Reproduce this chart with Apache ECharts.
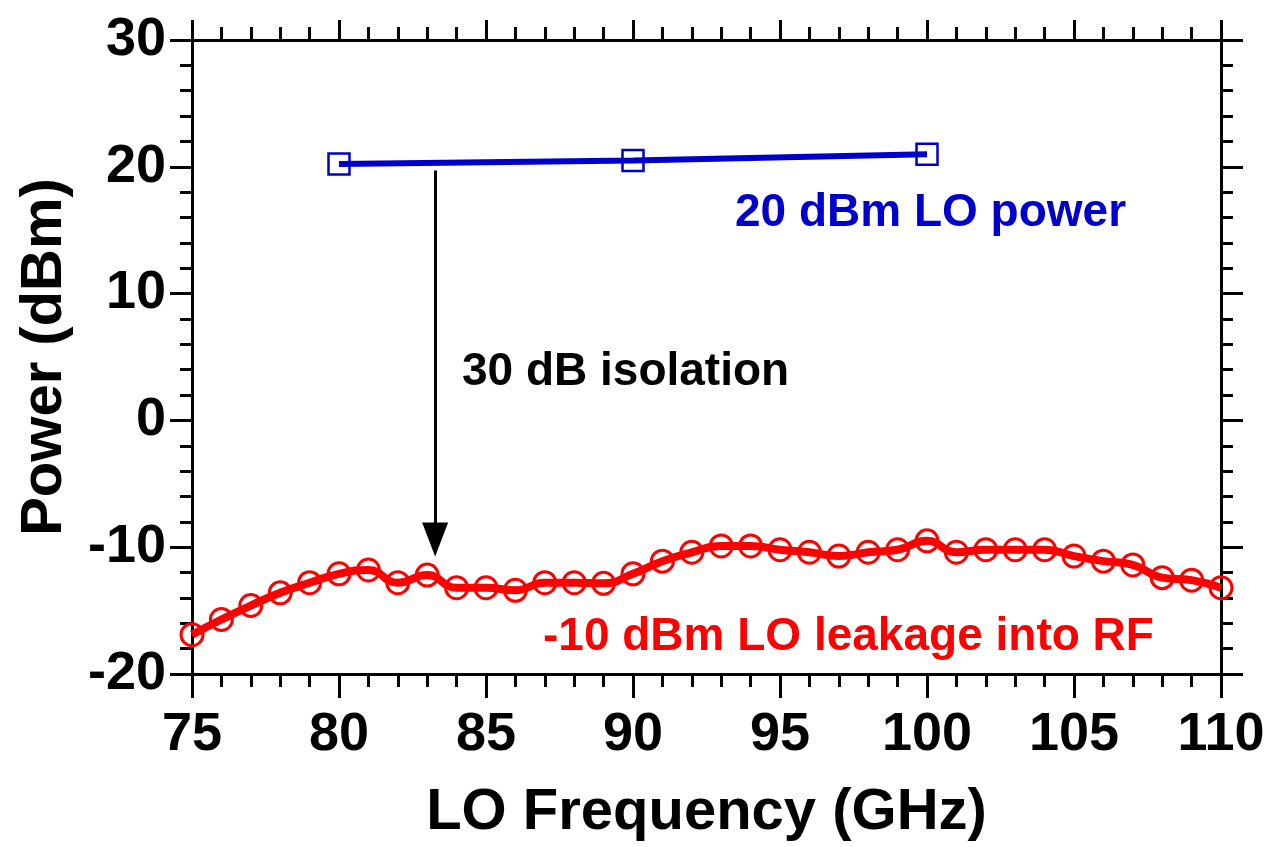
<!DOCTYPE html>
<html>
<head>
<meta charset="utf-8">
<script src="https://cdn.jsdelivr.net/npm/echarts@6/dist/echarts.min.js"></script>
<style>
html,body{margin:0;padding:0;background:#fff;}
#chart{width:1275px;height:847px;}
</style>
</head>
<body>
<div id="chart"></div>
<script>
// ---- data ----
const leakFreq = [75,76,77,78,79,80,81,82,83,84,85,86,87,88,89,90,91,92,93,94,95,96,97,98,99,100,101,102,103,104,105,106,107,108,109,110];
const leakPower = [-16.9,-15.7,-14.6,-13.6,-12.8,-12.1,-11.8,-12.8,-12.2,-13.2,-13.2,-13.4,-12.8,-12.8,-12.85,-12.1,-11.1,-10.4,-9.9,-9.9,-10.2,-10.4,-10.7,-10.4,-10.2,-9.5,-10.4,-10.2,-10.2,-10.2,-10.7,-11.1,-11.4,-12.4,-12.6,-13.2];
const loFreq = [80, 90, 100];
const loPower = [20.22, 20.5, 20.98];
const arrowFreq = 83.27;
const arrowTop = 19.7;
const arrowBottom = -9.4;
const xTitle = 'LO Frequency (GHz)';
const yTitle = 'Power (dBm)';
const labelLO = '20 dBm LO power';
const labelIso = '30 dB isolation';
const labelLeak = '-10 dBm LO leakage into RF';

const FONT = 'Liberation Sans, Arial, sans-serif';
const chart = echarts.init(document.getElementById('chart'));

chart.setOption({
  animation: false,
  backgroundColor: '#fff',
  grid: {left: 192, right: 54, top: 40, bottom: 164, containLabel: false},
  xAxis: [
    {
      type: 'value', position: 'bottom', min: 75, max: 110, interval: 5,
      axisLine: {show: true, onZero: false, lineStyle: {color: '#000', width: 3}},
      axisTick: {show: true, inside: false, length: 24, lineStyle: {color: '#000', width: 3}},
      minorTick: {show: true, splitNumber: 5, length: 13, lineStyle: {color: '#000', width: 3}},
      splitLine: {show: false},
      axisLabel: {margin: 34, color: '#000', fontFamily: FONT, fontWeight: 'bold', fontSize: 54},
      name: xTitle, nameLocation: 'middle', nameGap: 110,
      nameTextStyle: {color: '#000', fontFamily: FONT, fontWeight: 'bold', fontSize: 58}
    },
    {
      type: 'value', position: 'top', min: 75, max: 110, interval: 5,
      axisLine: {show: true, onZero: false, lineStyle: {color: '#000', width: 3}},
      axisTick: {show: true, inside: false, length: 20, lineStyle: {color: '#000', width: 3}},
      minorTick: {show: true, splitNumber: 5, length: 13, lineStyle: {color: '#000', width: 3}},
      splitLine: {show: false},
      axisLabel: {show: false}
    }
  ],
  yAxis: [
    {
      type: 'value', position: 'left', min: -20, max: 30, interval: 10,
      axisLine: {show: true, onZero: false, lineStyle: {color: '#000', width: 3}},
      axisTick: {show: true, inside: false, length: 22, lineStyle: {color: '#000', width: 3}},
      minorTick: {show: true, splitNumber: 5, length: 12, lineStyle: {color: '#000', width: 3}},
      splitLine: {show: false},
      axisLabel: {margin: 26, color: '#000', fontFamily: FONT, fontWeight: 'bold', fontSize: 54},
      name: yTitle, nameLocation: 'middle', nameGap: 118, nameRotate: 90,
      nameTextStyle: {color: '#000', fontFamily: FONT, fontWeight: 'bold', fontSize: 58}
    },
    {
      type: 'value', position: 'right', min: -20, max: 30, interval: 10,
      axisLine: {show: true, onZero: false, lineStyle: {color: '#000', width: 3}},
      axisTick: {show: true, inside: false, length: 22, lineStyle: {color: '#000', width: 3}},
      minorTick: {show: true, splitNumber: 5, length: 12, lineStyle: {color: '#000', width: 3}},
      splitLine: {show: false},
      axisLabel: {show: false}
    }
  ],
  series: [
    {
      name: 'leak', type: 'line', xAxisIndex: 0, yAxisIndex: 0,
      data: leakFreq.map((f, i) => [f, leakPower[i]]),
      smooth: 0.5,
      symbol: 'circle', symbolSize: 22,
      lineStyle: {color: '#ff0000', width: 8},
      itemStyle: {color: 'rgba(255,255,255,0)', borderColor: '#ff0000', borderWidth: 3},
      z: 3
    },
    {
      name: 'lo', type: 'line', xAxisIndex: 0, yAxisIndex: 0,
      data: loFreq.map((f, i) => [f, loPower[i]]),
      symbol: 'rect', symbolSize: 21,
      lineStyle: {color: '#0000cc', width: 6},
      itemStyle: {color: 'rgba(255,255,255,0)', borderColor: '#0000cc', borderWidth: 2.5},
      z: 3
    },
    {
      name: 'arrow', type: 'line', xAxisIndex: 0, yAxisIndex: 0, data: [],
      markLine: {
        silent: true, animation: false,
        label: {show: false},
        lineStyle: {color: '#000', width: 3, type: 'solid'},
        symbol: ['none', 'triangle'], symbolSize: [26, 34],
        data: [[{coord: [arrowFreq, arrowTop]}, {coord: [arrowFreq, arrowBottom]}]]
      }
    }
  ],
  graphic: [
    {type: 'text', left: 735, top: 190, style: {text: labelLO, fill: '#0000cc', font: 'bold 46px ' + FONT}},
    {type: 'text', left: 462, top: 349, style: {text: labelIso, fill: '#000', font: 'bold 46px ' + FONT}},
    {type: 'text', left: 543, top: 614, style: {text: labelLeak, fill: '#ff0000', font: 'bold 46px ' + FONT}}
  ]
});
</script>
</body>
</html>
